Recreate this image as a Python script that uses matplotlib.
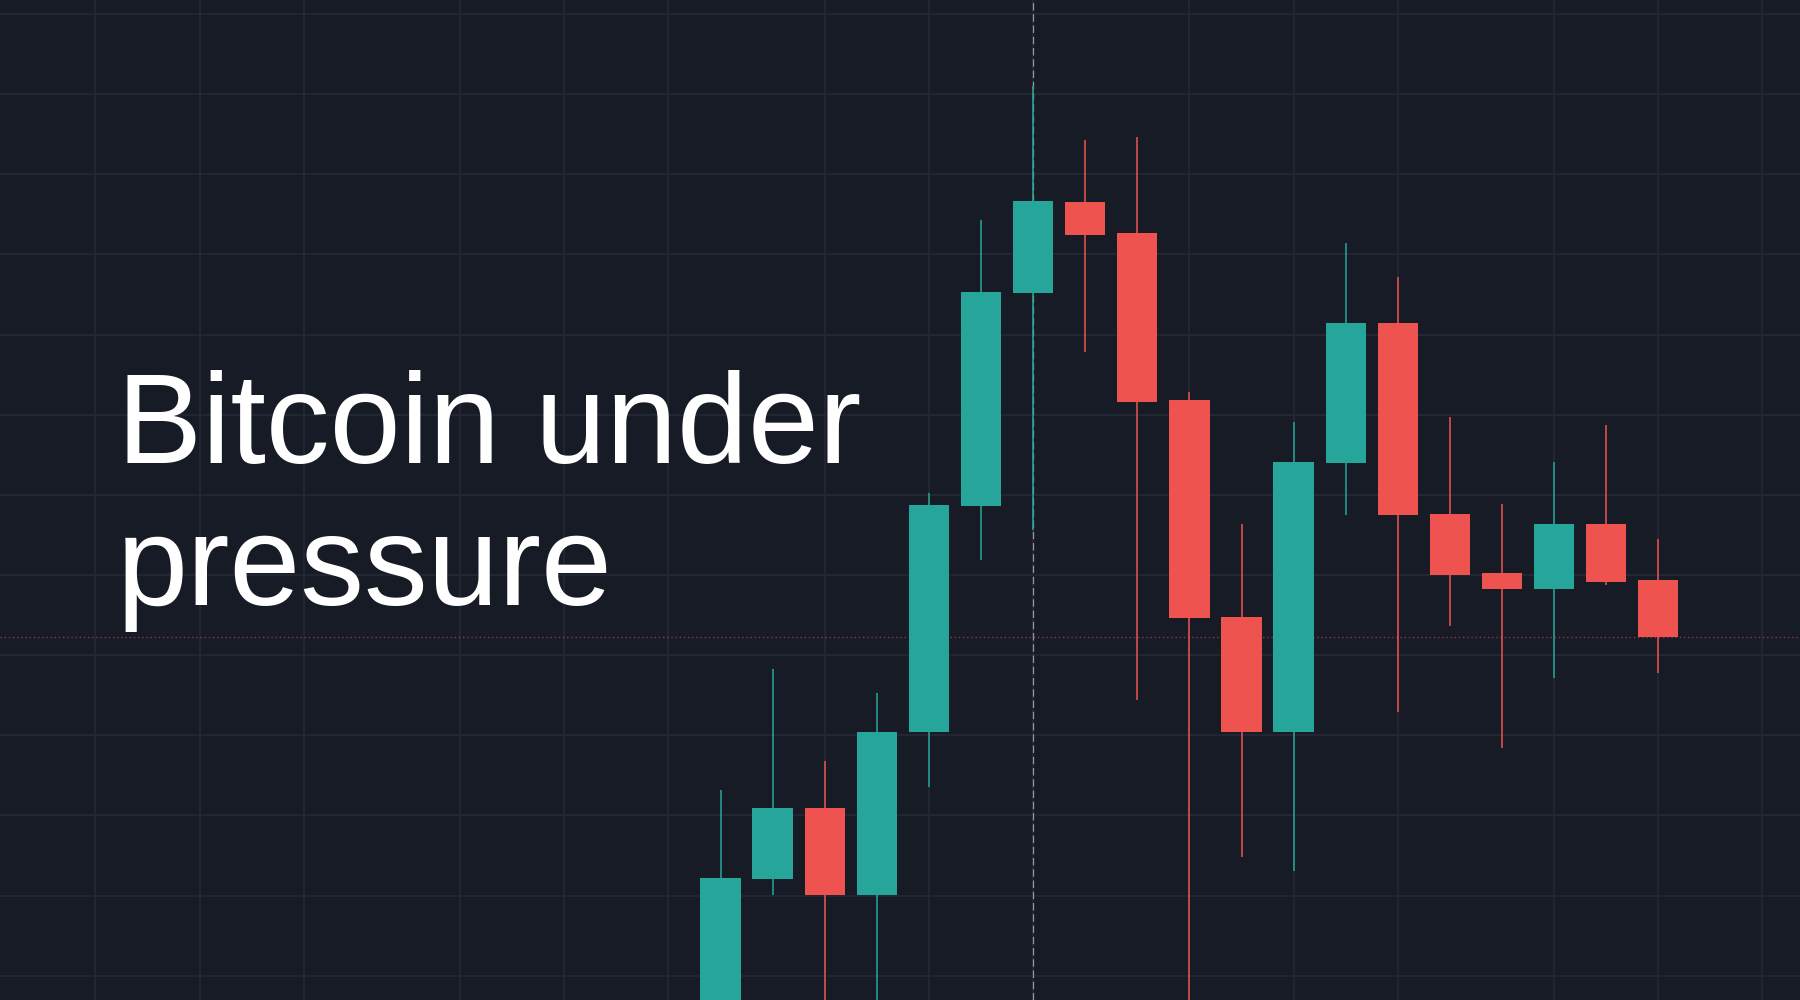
import matplotlib
matplotlib.use("Agg")
import matplotlib.pyplot as plt

# ---- data (price, USD) ----
opens  = [25600, 26605, 27046, 26504, 27519, 28930, 30258, 30827, 30632, 29592,
          28236, 27519, 29197, 30072, 28881, 28512, 28411, 28818, 28467]
highs  = [27159, 27914, 27340, 27762, 29012, 30715, 31551, 31214, 31235, 29644,
          28818, 29456, 30570, 30361, 29484, 28943, 29207, 29436, 28723]
lows   = [25380, 26502, 25786, 25724, 27179, 28594, 28781, 29893, 27720, 25786,
          26742, 26653, 28874, 27647, 28182, 27419, 27859, 28438, 27887]
closes = [26610, 27046, 26504, 27519, 28937, 30264, 30835, 30623, 29581, 28230,
          27519, 29203, 30070, 28874, 28500, 28411, 28816, 28458, 28111]
time_grid = [-12, -10, -8, -5, -3, -1, 2, 4, 6, 9, 11, 13, 16, 18, 20]
price_grid = list(range(26000, 32001, 500))
crosshair_index = 6
last_price = closes[-1]
title_lines = ["Bitcoin under", "pressure"]

UP = "#26a69a"
DOWN = "#ef5350"
BG = "#171b26"
GRID = "#242834"

fig = plt.figure(figsize=(18, 10), dpi=100)
fig.patch.set_facecolor(BG)
ax = fig.add_axes([0, 0, 1, 1])
ax.set_facecolor(BG)

ax.set_xlim(-13.83, 20.72)
ax.set_ylim(25848, 32088)
ax.set_xticks(time_grid)
ax.set_yticks(price_grid)
ax.grid(True, color=GRID, linewidth=1.3)
ax.tick_params(left=False, bottom=False, labelleft=False, labelbottom=False)
for s in ax.spines.values():
    s.set_visible(False)
ax.set_axisbelow(True)

# current price line
ax.axhline(last_price, color=DOWN, alpha=0.55, linewidth=1.0,
           linestyle=(0, (1, 2)), zorder=1)
# crosshair
ax.axvline(crosshair_index, color="#9598a1", linewidth=0.9,
           linestyle=(0, (6, 3)), zorder=1.5)

xs = list(range(len(opens)))
for x, o, h, l, c in zip(xs, opens, highs, lows, closes):
    col = UP if c >= o else DOWN
    ax.vlines(x, l, h, color=col, linewidth=1.1, zorder=2)
    ax.bar(x, abs(c - o), bottom=min(o, c), width=0.775, color=col,
           linewidth=0, zorder=3)

# title text
for line, base in zip(title_lines, [0.463, 0.605]):
    ax.text(0.0648, 1 - base, line, transform=ax.transAxes,
            fontsize=91.8, color="white",
            family=["Liberation Sans", "DejaVu Sans"],
            ha="left", va="baseline", zorder=5)

fig.savefig("out.png", dpi=100, facecolor=BG)
